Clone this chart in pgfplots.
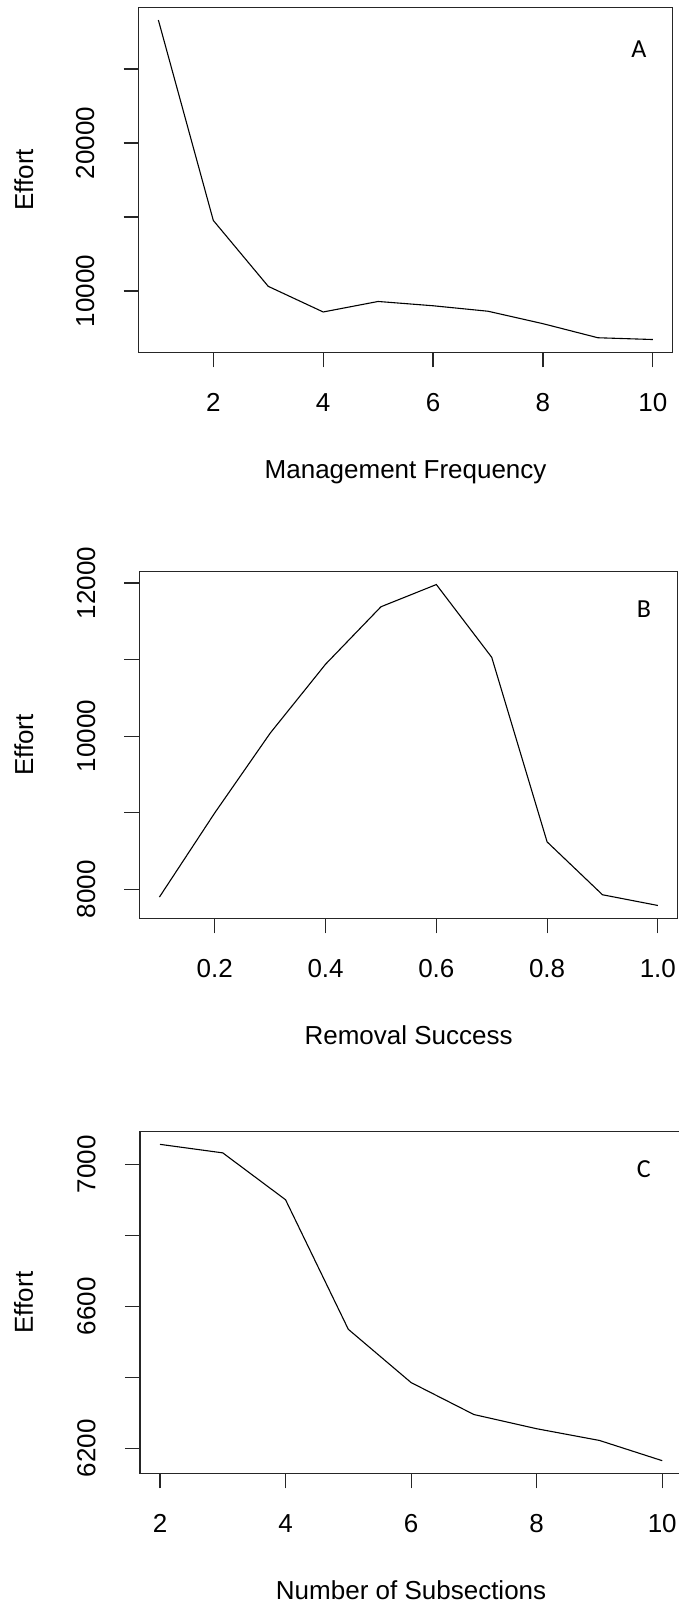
\documentclass[border=0pt]{standalone}
\usepackage{pgfplots}
\pgfplotsset{compat=1.18}
\usepackage{fontspec}
\setmainfont{Liberation Sans}
\newfontfamily\calib{Carlito}
\newcommand{\rfont}{\fontsize{26bp}{30bp}\selectfont}
\newcommand{\pfont}{\calib\fontsize{26bp}{30bp}\selectfont}
\pgfplotsset{
  rplot/.style={
    scale only axis,
    anchor=south west,
    axis line style={line width=1.2bp, black!85},
    every tick/.style={line width=1.2bp, black!85},
    tick align=outside,
    major tick length=15bp,
    xtick pos=left, ytick pos=left,
    minor tick num=0,
    scaled ticks=false,
    tick label style={font=\rfont, inner sep=0pt},
    xticklabel style={anchor=north, yshift=-26bp},
    yticklabel style={anchor=south, xshift=-29bp, rotate=90},
    label style={font=\rfont},
    xlabel style={at={(axis description cs:0.5,0)}, anchor=base, yshift=-125.7bp},
    ylabel style={at={(axis description cs:-0.1975,0.5)}, anchor=base},
    cycle list={{black, line width=1.1bp, mark=none}},
  },
  rline/.style={black, line width=1.1bp, mark=none},
}
\begin{document}
\begin{tikzpicture}
\useasboundingbox (0,0) rectangle (679bp,-1615bp);
% Panel A
\begin{axis}[rplot,
  at={(138.6bp,-352.3bp)}, width=534bp, height=345bp,
  xmin=0.64, xmax=10.36, ymin=5867, ymax=29163,
  xtick={2,4,6,8,10}, xticklabels={2,4,6,8,10},
  ytick={10000,15000,20000,25000}, yticklabels={10000,{},20000,{}},
  xlabel={Management Frequency}, ylabel={Effort}]
\addplot[rline] coordinates {(1,28300) (2,14770) (3,10320) (4,8590) (5,9300) (6,9010) (7,8640) (8,7800) (9,6850) (10,6730)};
\node[font=\pfont] at (rel axis cs:0.937,0.879) {A};
\end{axis}
% Panel B
\begin{axis}[rplot,
  at={(139.5bp,-918.3bp)}, width=538.3bp, height=346.6bp,
  xmin=0.064, xmax=1.036, ymin=7622.4, ymax=12147.6,
  xtick={0.2,0.4,0.6,0.8,1.0}, xticklabels={0.2,0.4,0.6,0.8,1.0},
  ytick={8000,9000,10000,11000,12000}, yticklabels={8000,{},10000,{},12000},
  xlabel={Removal Success}, ylabel={Effort}]
\addplot[rline] coordinates {(0.1,7900) (0.2,9000) (0.3,10040) (0.4,10940) (0.5,11690) (0.6,11980) (0.7,11030) (0.8,8620) (0.9,7930) (1.0,7790)};
\node[font=\pfont] at (rel axis cs:0.937,0.892) {B};
\end{axis}
% Panel C
\begin{axis}[rplot,
  at={(139.9bp,-1473.3bp)}, width=542.4bp, height=341.6bp,
  xmin=1.68, xmax=10.32, ymin=6129.4, ymax=7091.6,
  xtick={2,4,6,8,10}, xticklabels={2,4,6,8,10},
  ytick={6200,6400,6600,6800,7000}, yticklabels={6200,{},6600,{},7000},
  xlabel={Number of Subsections}, ylabel={Effort}]
\addplot[rline] coordinates {(2,7056) (3,7032) (4,6900) (5,6535) (6,6385) (7,6295) (8,6255) (9,6222) (10,6165)};
\node[font=\pfont] at (rel axis cs:0.929,0.891) {C};
\end{axis}
\end{tikzpicture}
\end{document}
